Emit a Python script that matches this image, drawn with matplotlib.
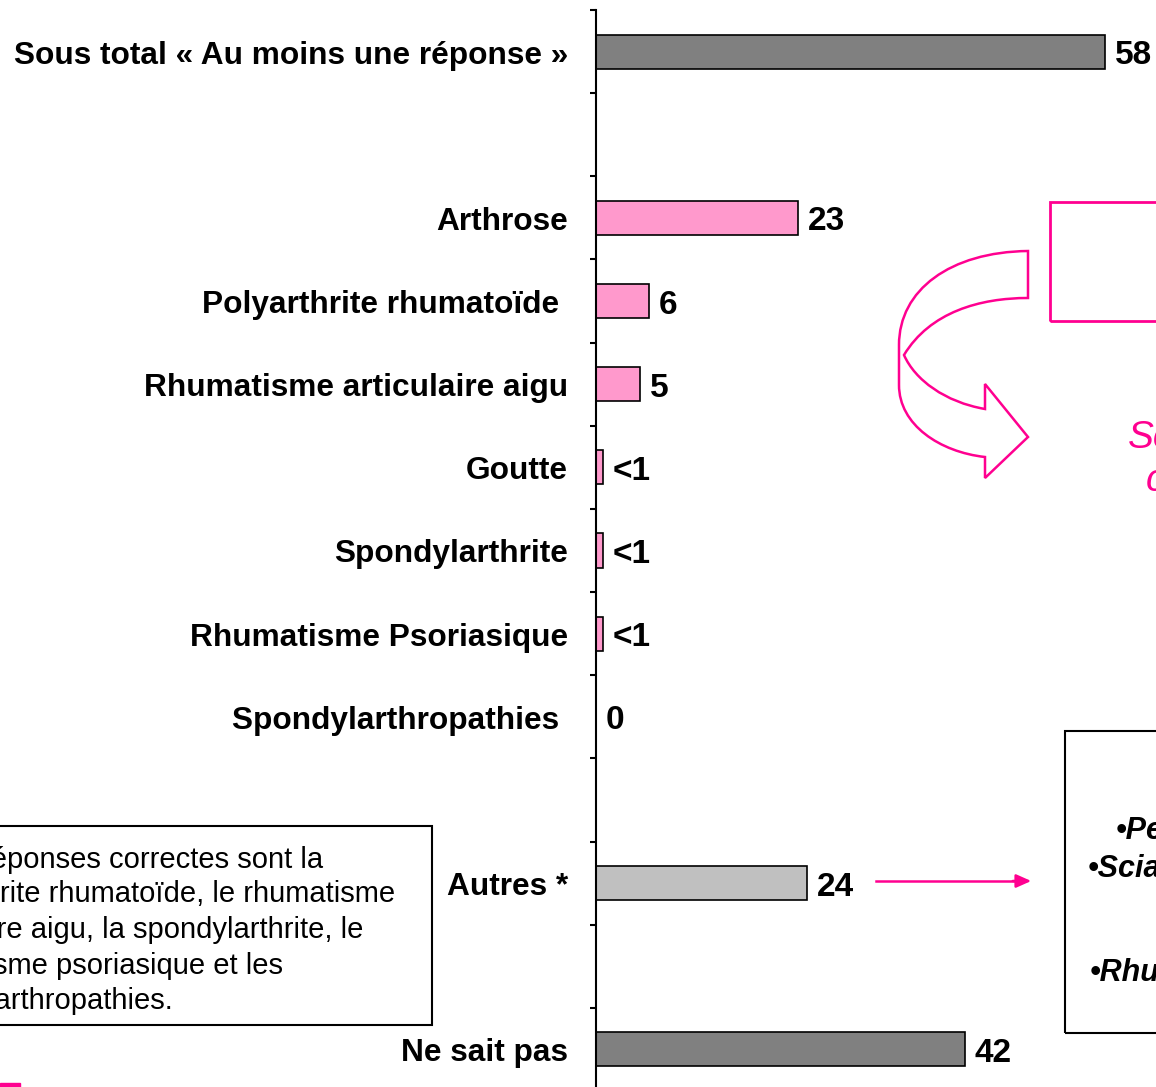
import numpy as np
import matplotlib.pyplot as plt
import matplotlib.transforms as mtransforms
from matplotlib.path import Path
from matplotlib.patches import PathPatch, Rectangle

plt.rcParams['font.family'] = ['Liberation Sans', 'DejaVu Sans']

# data (empty strings / None = spacer rows)
categories = ['Sous total « Au moins une réponse »', '', 'Arthrose',
              'Polyarthrite rhumatoïde ', 'Rhumatisme articulaire aigu',
              'Goutte', 'Spondylarthrite', 'Rhumatisme Psoriasique',
              'Spondylarthropathies ', '', 'Autres *', '', 'Ne sait pas']
values = [58, None, 23, 6, 5, 0.8, 0.8, 0.8, 0, None, 24, None, 42]
value_labels = ['58', '', '23', '6', '5', '<1', '<1', '<1', '0', '', '24', '', '42']
groups = ['total', '', 'item', 'item', 'item', 'item', 'item', 'item', 'item',
          '', 'other', '', 'total']
group_colors = {'total': '#808080', 'item': '#FF99CC', 'other': '#C0C0C0'}

note_lines = ['Les réponses correctes sont la',
              'polyarthrite rhumatoïde, le rhumatisme',
              'articulaire aigu, la spondylarthrite, le',
              'rhumatisme psoriasique et les',
              'spondylarthropathies.']
autres_lines = ['•Periarthrite', '•Sciatique', '•Rhumatisme']

PINK = '#FF0090'
W, H = 1156, 1087


def fx(x):
    return x / W


def fy(y):
    return 1 - y / H


fig = plt.figure(figsize=(W / 100, H / 100), dpi=100)
ax = fig.add_axes([fx(596), fy(1091), 1 - fx(596), (1091 - 10) / H])

# shift texts a few pixels down so they sit like in the original
down = mtransforms.ScaledTranslation(0, -4 / 100, fig.dpi_scale_trans)
label_tr = (mtransforms.blended_transform_factory(ax.transAxes, ax.transData)
            + mtransforms.ScaledTranslation(-28 / 100, -4 / 100, fig.dpi_scale_trans))

pos = np.arange(len(categories))
for i, v in enumerate(values):
    if categories[i]:
        ax.text(0, pos[i], categories[i], ha='right', va='center',
                fontsize=22.8, fontweight='bold', transform=label_tr)
    if v is None:
        continue
    if v > 0:
        ax.barh(pos[i], v, height=0.41, color=group_colors[groups[i]],
                edgecolor='black', linewidth=1.2)
    ax.text(v + 1.1, pos[i], value_labels[i], ha='left', va='center',
            fontsize=24, fontweight='bold', transform=ax.transData + down)

ax.set_xlim(0, (W - 596) / 8.78)
ax.set_ylim(len(categories) - 0.5, -0.5)
ax.set_xticks([])
ax.set_yticks([])
ax.set_yticks(np.arange(-0.5, len(categories), 1), minor=True)
ax.tick_params(axis='y', which='minor', length=4.5, width=1.5)
for s in ['top', 'right', 'bottom']:
    ax.spines[s].set_visible(False)
ax.spines['left'].set_linewidth(1.5)

# note box on the left
fig.patches.append(Rectangle((fx(-10), fy(1025)), fx(442), (1025 - 826) / H,
                             transform=fig.transFigure, fill=False,
                             edgecolor='black', linewidth=1.5))
line_x = [323, 395, 363, 283, 173]
line_y = [860, 894, 930, 966, 1001]
for t, xx, yy in zip(note_lines, line_x, line_y):
    fig.text(fx(xx), fy(yy), t, ha='right', va='center', fontsize=21)

# pink box and text on the right
fig.patches.append(Rectangle((fx(1050), fy(321)), fx(200), (321 - 202) / H,
                             transform=fig.transFigure, fill=False,
                             edgecolor=PINK, linewidth=2))
fig.text(fx(1128), fy(438), 'Score', ha='left', va='center', fontsize=28,
         style='italic', color=PINK)
fig.text(fx(1146), fy(481), 'correct', ha='left', va='center', fontsize=28,
         style='italic', color=PINK)

# curved arrow
verts = [(1028, 251), (950, 252), (899, 290), (899, 345),
         (899, 385),
         (899, 425), (940, 452), (985, 457),
         (985, 478), (1028, 437), (985, 384), (985, 409),
         (945, 402), (915, 380), (904, 355),
         (930, 312), (980, 298), (1028, 298),
         (1028, 251)]
codes = [Path.MOVETO, Path.CURVE4, Path.CURVE4, Path.CURVE4,
         Path.LINETO,
         Path.CURVE4, Path.CURVE4, Path.CURVE4,
         Path.LINETO, Path.LINETO, Path.LINETO, Path.LINETO,
         Path.CURVE4, Path.CURVE4, Path.CURVE4,
         Path.CURVE4, Path.CURVE4, Path.CURVE4,
         Path.CLOSEPOLY]
arrow_path = Path([(fx(x), fy(y)) for x, y in verts], codes)
fig.patches.append(PathPatch(arrow_path, transform=fig.transFigure,
                             facecolor='none', edgecolor=PINK, linewidth=1.8))

# box listing the "Autres" answers
fig.patches.append(Rectangle((fx(1065), fy(1033)), fx(200), (1033 - 731) / H,
                             transform=fig.transFigure, fill=False,
                             edgecolor='black', linewidth=1.5))
for t, xx, yy in zip(autres_lines, [1116, 1088, 1090], [831, 869, 973]):
    fig.text(fx(xx), fy(yy), t, ha='left', va='center', fontsize=22,
             fontweight='bold', style='italic')

# pointer from "Autres" to the box
fig.add_artist(plt.Line2D([fx(876), fx(1018)], [fy(881), fy(881)],
                          color=PINK, linewidth=1.8))
ax.annotate('', xy=(fx(1034), fy(881)), xytext=(fx(1010), fy(881)),
            xycoords='figure fraction', textcoords='figure fraction',
            arrowprops=dict(arrowstyle='-|>,head_length=0.9,head_width=0.4',
                            color=PINK, linewidth=1.8))

# logo fragment at bottom left
fig.patches.append(Rectangle((0, 0), fx(20), 4 / H, transform=fig.transFigure,
                             color=PINK))

fig.savefig('out.png', dpi=100)
